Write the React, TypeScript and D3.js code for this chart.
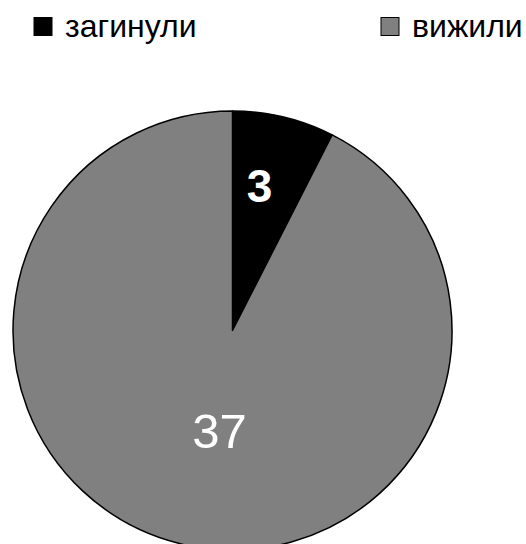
import React from "react";
import * as d3 from "d3";

const categories = ["загинули", "вижили"];
const values = [3, 37];
const colors = ["#000000", "#808080"];

export default function App() {
  const width = 526;
  const height = 544;
  const cx = 232.5;
  const cy = 330.5;
  const r = 219.5;
  const pie = d3.pie<number>().sort(null).value((d) => d)(values);
  const arc = d3.arc<d3.PieArcDatum<number>>().innerRadius(0).outerRadius(r);
  const labelPos = [
    [27, -128.5],
    [-13, 117.5],
  ];
  const legendX = [34, 381];
  return (
    <svg
      width={width}
      height={height}
      style={{ position: "absolute", left: 0, top: 0, fontFamily: "Liberation Sans, Arial, sans-serif" }}
    >
      <rect width={width} height={height} fill="#fff" />
      <g transform={`translate(${cx},${cy})`}>
        {pie.map((p, i) => (
          <path key={i} d={arc(p) || ""} fill={colors[i]} stroke="#000" strokeWidth={1.5} strokeLinejoin="round" />
        ))}
        {pie.map((p, i) => (
          <text
            key={"l" + i}
            x={labelPos[i][0]}
            y={labelPos[i][1]}
            textAnchor="middle"
            fill="#fff"
            fontWeight={i === 0 ? "bold" : "normal"}
            fontSize={i === 0 ? 46 : 49}
          >
            {p.data}
          </text>
        ))}
      </g>
      {categories.map((c, i) => (
        <g key={c}>
          <rect x={legendX[i]} y={17.5} width={18} height={18} fill={colors[i]} stroke="#000" strokeWidth={1} />
          <text x={legendX[i] + 31} y={37} fontSize={32} fill="#000">
            {c}
          </text>
        </g>
      ))}
    </svg>
  );
}
